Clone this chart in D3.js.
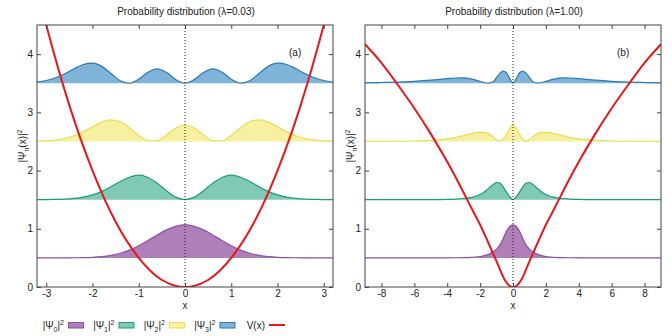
<!DOCTYPE html>
<html>
<head>
<meta charset="utf-8">
<script src="https://cdn.jsdelivr.net/npm/d3@7"></script>
<style>
body { margin: 0; background: #fff; }
svg text { font-family: "Liberation Sans", Arial, sans-serif; font-size: 10px; fill: #222; }
</style>
</head>
<body>
<svg id="chart" width="672" height="336"></svg>
<script>
// values
var titles = ['Probability distribution (\u03bb=0.03)', 'Probability distribution (\u03bb=1.00)'];
var tags = ['(a)', '(b)'];
var levels = [0.5, 1.5, 2.5, 3.5];
var yTicks = [0, 1, 2, 3, 4];
var xTicksA = [-3, -2, -1, 0, 1, 2, 3];
var xTicksB = [-8, -6, -4, -2, 0, 2, 4, 6, 8];

// panel (a)
var xsA = [-3.2,-3.0,-2.8,-2.6,-2.4,-2.2,-2.0,-1.8,-1.6,-1.4,-1.2,-1.0,-0.8,-0.6,-0.4,-0.2,0,
           0.2,0.4,0.6,0.8,1.0,1.2,1.4,1.6,1.8,2.0,2.2,2.4,2.6,2.8,3.0,3.2];
var psi0A = [0,0,0,0.001,0.002,0.004,0.010,0.022,0.044,0.079,0.134,0.208,0.297,0.394,0.481,0.542,0.57,
             0.542,0.481,0.394,0.297,0.208,0.134,0.079,0.044,0.022,0.010,0.004,0.002,0.001,0,0,0];
var psi1A = [0.001,0.001,0.004,0.009,0.021,0.043,0.083,0.143,0.223,0.312,0.385,0.42,0.381,0.283,0.154,0.043,0,
             0.043,0.154,0.283,0.381,0.42,0.385,0.312,0.223,0.143,0.083,0.043,0.021,0.009,0.004,0.001,0.001];
var psi2A = [0.004,0.010,0.024,0.051,0.098,0.168,0.253,0.332,0.370,0.339,0.236,0.104,0.012,0.015,0.111,0.229,0.287,
             0.229,0.111,0.015,0.012,0.104,0.236,0.339,0.370,0.332,0.253,0.168,0.098,0.051,0.024,0.010,0.004];
var psi3A = [0.021,0.047,0.093,0.163,0.248,0.321,0.344,0.289,0.167,0.044,0.001,0.069,0.188,0.246,0.184,0.062,0,
             0.062,0.184,0.246,0.188,0.069,0.001,0.044,0.167,0.289,0.344,0.321,0.248,0.163,0.093,0.047,0.021];
var potXA = [-3.2,-3,-2.5,-2,-1.5,-1,-0.5,0,0.5,1,1.5,2,2.5,3,3.2];
var potA = [5.12,4.5,3.12,2,1.12,0.5,0.12,0,0.12,0.5,1.12,2,3.12,4.5,5.12];

// panel (b)
var xsB = [-9,-8,-7,-6,-5,-4,-3.5,-3,-2.5,-2.1,-1.8,-1.5,-1.2,-1,-0.8,-0.6,-0.4,-0.2,0,
           0.2,0.4,0.6,0.8,1,1.2,1.5,1.8,2.1,2.5,3,3.5,4,5,6,7,8,9];
var psi0B = [0,0,0,0,0,0.001,0.002,0.004,0.01,0.02,0.035,0.06,0.105,0.15,0.22,0.33,0.455,0.54,0.568,
             0.54,0.455,0.33,0.22,0.15,0.105,0.06,0.035,0.02,0.01,0.004,0.002,0.001,0,0,0,0,0];
var psi1B = [0,0,0,0,0.001,0.005,0.01,0.02,0.04,0.075,0.12,0.19,0.26,0.295,0.285,0.22,0.13,0.05,0,
             0.05,0.13,0.22,0.285,0.295,0.26,0.19,0.12,0.075,0.04,0.02,0.01,0.005,0.001,0,0,0,0];
var psi2B = [0,0.001,0.003,0.008,0.02,0.045,0.065,0.1,0.135,0.155,0.155,0.135,0.08,0.03,0,0.04,0.12,0.22,0.29,
             0.22,0.12,0.04,0,0.03,0.08,0.135,0.155,0.155,0.135,0.1,0.065,0.045,0.02,0.008,0.003,0.001,0];
var psi3B = [0.007,0.012,0.02,0.033,0.052,0.078,0.09,0.093,0.07,0.04,0.015,0.001,0.025,0.1,0.17,0.21,0.18,0.08,0,
             0.08,0.18,0.21,0.17,0.1,0.025,0.001,0.015,0.04,0.07,0.093,0.09,0.078,0.052,0.033,0.02,0.012,0.007];
var potXB = [-9,-8,-7,-6,-5,-4,-3,-2.5,-2,-1.5,-1,-0.5,-0.25,0,0.25,0.5,1,1.5,2,2.5,3,4,5,6,7,8,9];
var potB = [4.17,3.85,3.47,3.07,2.63,2.15,1.62,1.34,1.07,0.76,0.44,0.12,0.03,0,0.03,0.12,0.44,0.76,1.07,1.34,1.62,2.15,2.63,3.07,3.47,3.85,4.17];

var legendSubs = ['0', '1', '2', '3'];
var lineColors = ['#8a52a5', '#1c9d78', '#e9df55', '#2a79b8'];
var fillColors = ['#b07fba', '#80cab5', '#f6f0a0', '#7fb3d8'];
var potColor = '#e3191c';

var svg = d3.select('#chart');
var top0 = 25, bottom0 = 287;

function rich(t, a, sub, b, sup) {
  t.append('tspan').text(a);
  t.append('tspan').attr('dy', 3).style('font-size', '7px').text(sub);
  t.append('tspan').attr('dy', -3).text(b);
  t.append('tspan').attr('dy', -4).style('font-size', '7px').text(sup);
}

function renderPanel(p) {
  var x = d3.scaleLinear().domain(p.domain).range([p.left, p.right]);
  var y = d3.scaleLinear().domain([0, 4.5]).range([bottom0, top0]);
  var g = svg.append('g');

  g.append('clipPath').attr('id', 'clip' + p.id)
    .append('rect')
    .attr('x', p.left).attr('y', top0)
    .attr('width', p.right - p.left).attr('height', bottom0 - top0);

  var plot = g.append('g').attr('clip-path', 'url(#clip' + p.id + ')');

  p.series.forEach(function(vals, k) {
    var pts = p.xs.map(function(xv, i) { return [xv, vals[i]]; });
    var base = levels[k];
    var area = d3.area()
      .x(function(d) { return x(d[0]); })
      .y0(y(base))
      .y1(function(d) { return y(base + d[1]); })
      .curve(d3.curveMonotoneX);
    var line = d3.line()
      .x(function(d) { return x(d[0]); })
      .y(function(d) { return y(base + d[1]); })
      .curve(d3.curveMonotoneX);
    plot.append('path').attr('d', area(pts))
      .attr('fill', fillColors[k]);
    plot.append('path').attr('d', line(pts))
      .attr('fill', 'none').attr('stroke', lineColors[k]).attr('stroke-width', 1.2);
  });

  // zero line
  plot.append('line')
    .attr('x1', x(0)).attr('x2', x(0))
    .attr('y1', y(0)).attr('y2', y(4.5))
    .attr('stroke', '#222').attr('stroke-width', 1)
    .attr('stroke-dasharray', '1,2');

  var potPts = p.potX.map(function(xv, i) { return [xv, p.pot[i]]; });
  plot.append('path')
    .attr('d', d3.line()
      .x(function(d) { return x(d[0]); })
      .y(function(d) { return y(d[1]); })
      .curve(d3.curveMonotoneX)(potPts))
    .attr('fill', 'none').attr('stroke', potColor).attr('stroke-width', 2);

  // axes, ticks inside
  var fmt = function(d) { return String(d); };
  var ax = [
    g.append('g').attr('transform', 'translate(0,' + bottom0 + ')')
      .call(d3.axisBottom(x).tickValues(p.ticks).tickSize(-4).tickPadding(3).tickFormat(fmt)),
    g.append('g').attr('transform', 'translate(0,' + top0 + ')')
      .call(d3.axisTop(x).tickValues(p.ticks).tickSize(-4).tickFormat('')),
    g.append('g').attr('transform', 'translate(' + p.left + ',0)')
      .call(d3.axisLeft(y).tickValues(yTicks).tickSize(-4).tickPadding(4).tickFormat(fmt)),
    g.append('g').attr('transform', 'translate(' + p.right + ',0)')
      .call(d3.axisRight(y).tickValues(yTicks).tickSize(-4).tickFormat(''))
  ];
  ax.forEach(function(a) {
    a.select('.domain').remove();
    a.selectAll('.tick line').attr('stroke', '#444');
    a.selectAll('text').attr('font-family', null).attr('font-size', null).attr('fill', null);
  });

  g.append('rect')
    .attr('x', p.left).attr('y', top0)
    .attr('width', p.right - p.left).attr('height', bottom0 - top0)
    .attr('fill', 'none').attr('stroke', '#444').attr('stroke-width', 1);

  g.append('text').attr('x', (p.left + p.right) / 2 + 1).attr('y', 15)
    .attr('text-anchor', 'middle').text(p.title);
  g.append('text').attr('x', p.right - 44).attr('y', 56).text(p.tag);
  g.append('text').attr('x', (p.left + p.right) / 2).attr('y', 309)
    .attr('text-anchor', 'middle').text('x');

  var yl = g.append('text')
    .attr('transform', 'translate(' + (p.left - 11) + ',146) rotate(-90)')
    .attr('text-anchor', 'middle');
  rich(yl, '|\u03a8', 'n', '(x)|', '2');
}

function renderLegend() {
  var lg = svg.append('g');
  legendSubs.forEach(function(s, i) {
    var ox = 50.5 * i;
    var t = lg.append('text').attr('x', 64 + ox).attr('y', 329).attr('text-anchor', 'end');
    rich(t, '|\u03a8', s, '|', '2');
    lg.append('rect')
      .attr('x', 68.5 + ox).attr('y', 322.5)
      .attr('width', 15).attr('height', 5.5)
      .attr('fill', fillColors[i]).attr('stroke', lineColors[i]).attr('stroke-width', 1);
  });
  lg.append('text').attr('x', 265).attr('y', 329).attr('text-anchor', 'end').text('V(x)');
  lg.append('line')
    .attr('x1', 269).attr('x2', 285).attr('y1', 325).attr('y2', 325)
    .attr('stroke', potColor).attr('stroke-width', 2);
}

renderPanel({ id: 'a', left: 37, right: 333, domain: [-3.2, 3.2], ticks: xTicksA,
  xs: xsA, series: [psi0A, psi1A, psi2A, psi3A], potX: potXA, pot: potA,
  title: titles[0], tag: tags[0] });
renderPanel({ id: 'b', left: 365, right: 661, domain: [-9, 9], ticks: xTicksB,
  xs: xsB, series: [psi0B, psi1B, psi2B, psi3B], potX: potXB, pot: potB,
  title: titles[1], tag: tags[1] });
renderLegend();
</script>
</body>
</html>
